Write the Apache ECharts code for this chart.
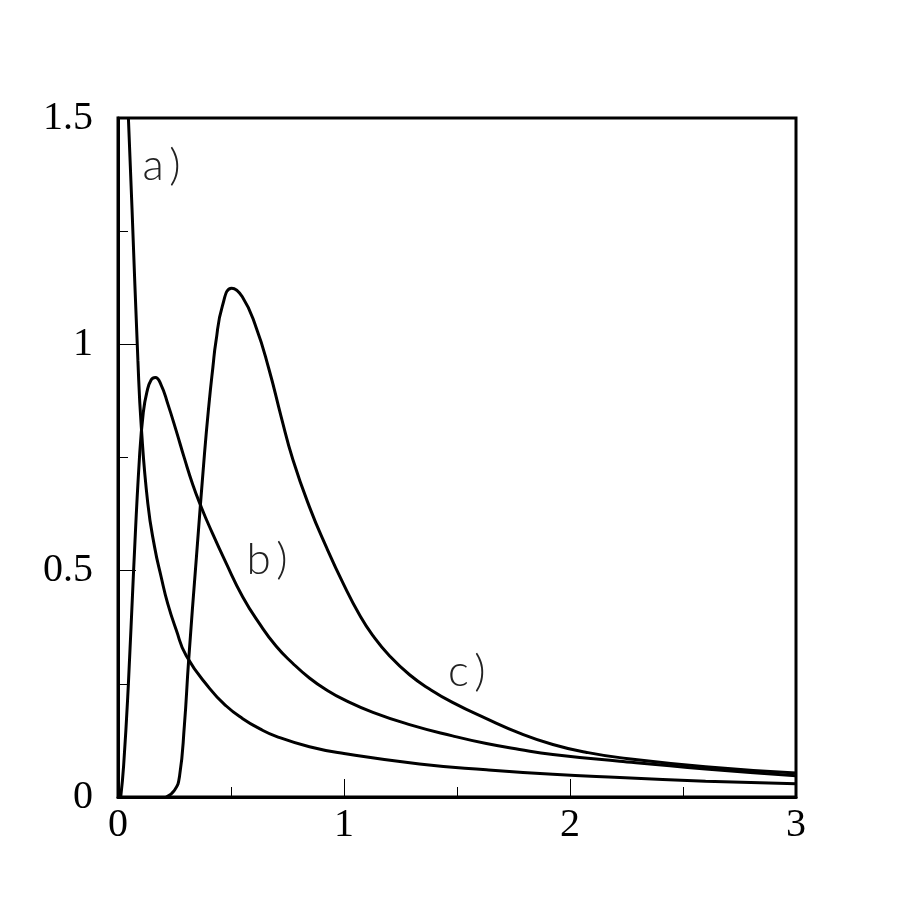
<!DOCTYPE html>
<html><head><meta charset="utf-8">
<script src="https://cdn.jsdelivr.net/npm/echarts@6/dist/echarts.min.js"></script>
<style>html,body{margin:0;padding:0;background:#fff}#c{width:915px;height:915px}</style>
</head><body><div id="c"></div>
<script>
// curve a) : decaying
const curveA = [
  [0.046, 1.500], [0.062, 1.300], [0.088, 0.965], [0.103, 0.818], [0.132, 0.648],
  [0.162, 0.552], [0.191, 0.486], [0.220, 0.427], [0.257, 0.370], [0.302, 0.312],
  [0.405, 0.240], [0.479, 0.201], [0.552, 0.173], [0.626, 0.151], [0.700, 0.134],
  [0.847, 0.111], [1.000, 0.096], [1.334, 0.073], [1.630, 0.060], [1.924, 0.050],
  [2.220, 0.043], [2.600, 0.035], [3.000, 0.029]
];
// curve b) : early peak
const curveB = [
  [0.012, 0.000], [0.025, 0.070], [0.046, 0.250], [0.069, 0.500], [0.095, 0.750],
  [0.112, 0.850], [0.128, 0.895], [0.147, 0.922], [0.165, 0.927], [0.191, 0.910],
  [0.220, 0.869], [0.257, 0.810], [0.294, 0.748], [0.331, 0.690], [0.368, 0.641],
  [0.405, 0.597], [0.479, 0.516], [0.552, 0.442], [0.626, 0.383], [0.700, 0.333],
  [0.774, 0.295], [0.847, 0.263], [0.921, 0.237], [1.000, 0.215], [1.128, 0.187],
  [1.290, 0.160], [1.480, 0.135], [1.630, 0.118], [1.777, 0.105], [1.924, 0.094],
  [2.220, 0.079], [2.600, 0.062], [3.000, 0.047]
];
// curve c) : later, higher peak
const curveC = [
  [0.213, 0.000], [0.250, 0.015], [0.272, 0.045], [0.294, 0.160], [0.312, 0.298],
  [0.347, 0.530], [0.383, 0.760], [0.403, 0.870], [0.420, 0.950], [0.433, 1.005],
  [0.462, 1.085], [0.503, 1.124], [0.550, 1.105], [0.610, 1.039], [0.668, 0.945],
  [0.722, 0.840], [0.774, 0.745], [0.847, 0.641], [0.921, 0.553], [1.000, 0.468],
  [1.069, 0.402], [1.127, 0.357], [1.201, 0.312], [1.290, 0.270], [1.380, 0.238],
  [1.480, 0.209], [1.630, 0.173], [1.777, 0.141], [1.924, 0.116], [2.070, 0.099],
  [2.220, 0.087], [2.600, 0.067], [3.000, 0.053]
];
const xRange = [0, 3];
const yRange = [0, 1.5];
const curveLabels = [
  { text: 'a\u2009)', at: [0.108, 1.345] },
  { text: 'b\u2009)', at: [0.569, 0.475] },
  { text: 'c\u2009)', at: [1.460, 0.229] }
];

const chart = echarts.init(document.getElementById('c'), null, { renderer: 'canvas' });
const tickFont = { fontFamily: 'Liberation Serif', fontSize: 40, color: '#000' };
function axis(range, interval, margin) {
  return {
    type: 'value', min: range[0], max: range[1], interval: interval,
    axisLine: { show: true, onZero: false, lineStyle: { color: '#000', width: 3 } },
    axisTick: { show: true, inside: true, length: 18, lineStyle: { color: '#000', width: 1 } },
    minorTick: { show: true, splitNumber: 2, length: 10, lineStyle: { color: '#000', width: 1 } },
    splitLine: { show: false }, minorSplitLine: { show: false },
    axisLabel: Object.assign({ margin: margin }, tickFont)
  };
}
const lineStyle = { color: '#000', width: 3 };
function mk(name, data) {
  return { name: name, type: 'line', data: data, smooth: 0.5,
           showSymbol: false, symbol: 'none', lineStyle: lineStyle, clip: true, animation: false };
}
chart.setOption({
  animation: false,
  backgroundColor: '#fff',
  grid: { left: 118, top: 118, width: 678, height: 679, show: true, borderColor: '#000', borderWidth: 3, backgroundColor: 'transparent' },
  xAxis: axis(xRange, 1, 8),
  yAxis: axis(yRange, 0.5, 25),
  series: [mk('a', curveA), mk('b', curveB), mk('c', curveC)]
});
const g = curveLabels.map(function (l) {
  const p = chart.convertToPixel({ gridIndex: 0 }, l.at);
  return { type: 'text', x: p[0], y: p[1],
    style: { text: l.text, font: '300 44px Lato', fill: '#222', textAlign: 'left', textVerticalAlign: 'bottom' } };
});
chart.setOption({ graphic: g });
</script></body></html>
